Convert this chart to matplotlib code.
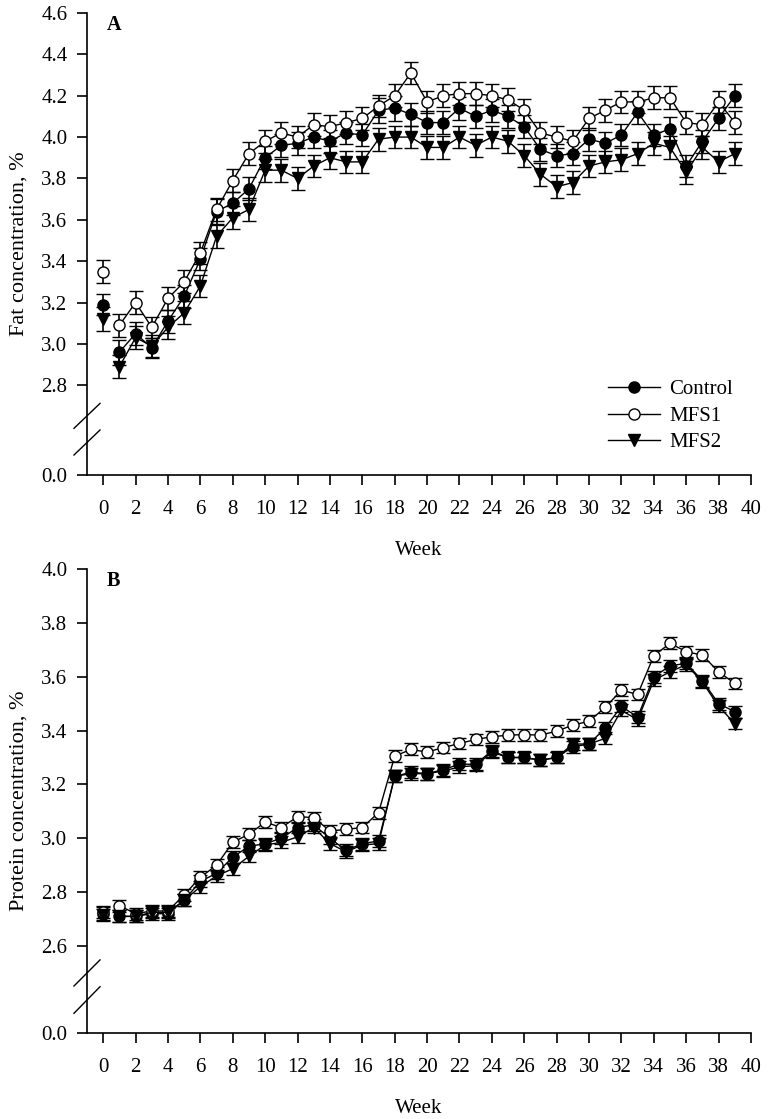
import numpy as np
import matplotlib
matplotlib.use("Agg")
import matplotlib.pyplot as plt
from matplotlib.lines import Line2D

plt.rcParams['font.family'] = ['Liberation Serif', 'DejaVu Serif']

weeks = list(range(40))

fat_control = [3.19, 2.96, 3.05, 2.98, 3.11, 3.23, 3.41, 3.64, 3.68, 3.75,
               3.90, 3.96, 3.97, 4.00, 3.98, 4.02, 4.01, 4.13, 4.14, 4.11,
               4.07, 4.07, 4.14, 4.10, 4.13, 4.10, 4.05, 3.94, 3.91, 3.92,
               3.99, 3.97, 4.01, 4.12, 4.01, 4.04, 3.86, 3.98, 4.09, 4.20]
fat_mfs1 = [3.35, 3.09, 3.20, 3.08, 3.22, 3.30, 3.44, 3.65, 3.79, 3.92,
            3.98, 4.02, 4.00, 4.06, 4.05, 4.07, 4.09, 4.15, 4.20, 4.31,
            4.17, 4.20, 4.21, 4.21, 4.20, 4.18, 4.13, 4.02, 4.00, 3.98,
            4.09, 4.13, 4.17, 4.17, 4.19, 4.19, 4.07, 4.06, 4.17, 4.07]
fat_mfs2 = [3.12, 2.89, 3.03, 2.99, 3.08, 3.15, 3.28, 3.52, 3.61, 3.65,
            3.84, 3.84, 3.80, 3.86, 3.90, 3.88, 3.88, 3.99, 4.00, 4.00,
            3.95, 3.95, 4.00, 3.96, 4.00, 3.98, 3.91, 3.82, 3.76, 3.78,
            3.86, 3.88, 3.89, 3.92, 3.97, 3.95, 3.83, 3.95, 3.88, 3.92]

fat_se_control = [0.05, 0.06, 0.055, 0.05, 0.055, 0.055, 0.055, 0.06, 0.055, 0.055,
                  0.055, 0.055, 0.055, 0.055, 0.055, 0.055, 0.055, 0.06, 0.06, 0.055,
                  0.055, 0.055, 0.055, 0.055, 0.055, 0.055, 0.055, 0.055, 0.055, 0.055,
                  0.055, 0.055, 0.055, 0.055, 0.055, 0.055, 0.055, 0.055, 0.055, 0.055]
fat_se_mfs1 = [0.055, 0.055, 0.055, 0.05, 0.055, 0.055, 0.055, 0.055, 0.055, 0.055,
               0.055, 0.055, 0.055, 0.055, 0.055, 0.055, 0.055, 0.055, 0.055, 0.055,
               0.055, 0.055, 0.055, 0.055, 0.055, 0.055, 0.055, 0.055, 0.055, 0.055,
               0.055, 0.055, 0.055, 0.055, 0.055, 0.055, 0.055, 0.055, 0.055, 0.055]
fat_se_mfs2 = [0.06, 0.055, 0.055, 0.055, 0.055, 0.055, 0.055, 0.055, 0.055, 0.055,
               0.055, 0.055, 0.055, 0.055, 0.055, 0.055, 0.055, 0.055, 0.055, 0.055,
               0.055, 0.055, 0.055, 0.055, 0.055, 0.055, 0.055, 0.055, 0.055, 0.055,
               0.055, 0.055, 0.055, 0.055, 0.055, 0.055, 0.055, 0.055, 0.055, 0.055]

prot_control = [2.72, 2.71, 2.71, 2.72, 2.72, 2.77, 2.84, 2.87, 2.93, 2.97,
                2.98, 3.00, 3.04, 3.05, 3.00, 2.955, 2.98, 2.99, 3.23, 3.245,
                3.24, 3.255, 3.275, 3.275, 3.325, 3.30, 3.30, 3.29, 3.30, 3.34,
                3.35, 3.41, 3.49, 3.45, 3.60, 3.64, 3.65, 3.585, 3.50, 3.47]
prot_mfs1 = [2.725, 2.75, 2.72, 2.73, 2.73, 2.79, 2.855, 2.90, 2.985, 3.015,
             3.06, 3.04, 3.08, 3.077, 3.027, 3.033, 3.04, 3.095, 3.305, 3.33,
             3.32, 3.337, 3.352, 3.367, 3.377, 3.383, 3.385, 3.383, 3.398, 3.42,
             3.435, 3.486, 3.55, 3.534, 3.678, 3.724, 3.693, 3.68, 3.618, 3.575]
prot_mfs2 = [2.715, 2.71, 2.71, 2.725, 2.725, 2.77, 2.82, 2.86, 2.887, 2.933,
             2.975, 2.985, 3.005, 3.04, 2.98, 2.95, 2.975, 2.98, 3.23, 3.24,
             3.24, 3.25, 3.265, 3.27, 3.32, 3.30, 3.30, 3.29, 3.30, 3.35,
             3.35, 3.371, 3.475, 3.44, 3.587, 3.618, 3.645, 3.58, 3.49, 3.426]

prot_se_control = [0.025, 0.022, 0.022, 0.022, 0.022, 0.022, 0.022, 0.022, 0.022, 0.022,
                   0.022, 0.022, 0.022, 0.022, 0.022, 0.022, 0.022, 0.022, 0.022, 0.022,
                   0.022, 0.022, 0.022, 0.022, 0.022, 0.022, 0.022, 0.022, 0.022, 0.022,
                   0.022, 0.022, 0.022, 0.022, 0.022, 0.022, 0.022, 0.022, 0.022, 0.022]
prot_se_mfs1 = [0.022, 0.022, 0.022, 0.022, 0.022, 0.022, 0.022, 0.022, 0.022, 0.022,
                0.022, 0.022, 0.022, 0.022, 0.022, 0.022, 0.022, 0.022, 0.022, 0.022,
                0.022, 0.022, 0.022, 0.022, 0.022, 0.022, 0.022, 0.022, 0.022, 0.022,
                0.022, 0.022, 0.022, 0.022, 0.022, 0.022, 0.022, 0.022, 0.022, 0.022]
prot_se_mfs2 = [0.022, 0.022, 0.022, 0.022, 0.022, 0.022, 0.022, 0.022, 0.022, 0.022,
                0.022, 0.022, 0.022, 0.022, 0.022, 0.022, 0.022, 0.022, 0.022, 0.022,
                0.022, 0.022, 0.022, 0.022, 0.022, 0.022, 0.022, 0.022, 0.022, 0.022,
                0.022, 0.022, 0.022, 0.022, 0.022, 0.022, 0.022, 0.022, 0.022, 0.022]

series_names = ["Control", "MFS1", "MFS2"]
xticks = list(range(0, 41, 2))
fat_yticks = [0.0, 2.8, 3.0, 3.2, 3.4, 3.6, 3.8, 4.0, 4.2, 4.4, 4.6]
prot_yticks = [0.0, 2.6, 2.8, 3.0, 3.2, 3.4, 3.6, 3.8, 4.0]

FS = 15
W, H = 768, 1119
fig = plt.figure(figsize=(W / 100, H / 100), dpi=100)

axA = fig.add_axes([87 / W, (H - 475) / H, 664 / W, 462 / H])
axB = fig.add_axes([87 / W, (H - 1032.7) / H, 664 / W, 463.7 / H])


def make_scale(b, y0):
    k = (b - y0) / b

    def fwd(v):
        v = np.asarray(v, dtype=float)
        return np.where(v >= b, v, b - (b - v) * k)

    def inv(t):
        t = np.asarray(t, dtype=float)
        return np.where(t >= b, t, b - (b - t) / k)
    return fwd, inv


styles = [dict(marker='o', mfc='black', ms=8),
          dict(marker='o', mfc='white', ms=8),
          dict(marker='v', mfc='black', ms=9)]


def draw_panel(ax, data, ses, yticks, ymax, b, y0, letter, brk):
    ax.set_yscale('function', functions=make_scale(b, y0))
    for vals, se, st in zip(data, ses, styles):
        common = dict(color='black', mec='black', mfc=st['mfc'], ms=st['ms'],
                      mew=1.0, elinewidth=1.2, capsize=4.7, capthick=1.2)
        ax.errorbar(weeks[1:], vals[1:], yerr=se[1:], fmt=st['marker'] + '-',
                    lw=1.0, **common)
        ax.errorbar(weeks[:1], vals[:1], yerr=se[:1], fmt=st['marker'],
                    **common)
    ax.set_xlim(-1, 40)
    ax.set_ylim(0, ymax)
    ax.set_xticks(xticks)
    ax.set_yticks(yticks)
    ax.set_yticklabels([f"{t:.1f}" for t in yticks])
    ax.minorticks_off()
    for s in ['top', 'right']:
        ax.spines[s].set_visible(False)
    for s in ['left', 'bottom']:
        ax.spines[s].set_linewidth(1.2)
    ax.tick_params(axis='both', direction='out', length=7, width=1.2,
                   labelsize=FS)
    ax.tick_params(axis='x', pad=11)
    ax.tick_params(axis='y', pad=7)
    ax.set_xlabel("Week", fontsize=FS, labelpad=16)
    ax.text(0.03, 0.975, letter, transform=ax.transAxes, fontsize=14.5,
            fontweight='bold', ha='left', va='center')
    for (ya, yb) in brk:
        ax.plot([-0.0196, 0.0196], [ya, yb], transform=ax.transAxes,
                color='black', lw=1.0, clip_on=False)


draw_panel(axA, [fat_control, fat_mfs1, fat_mfs2],
           [fat_se_control, fat_se_mfs1, fat_se_mfs2],
           fat_yticks, 4.6, 2.6, 2.366, "A",
           [(0.101, 0.155), (0.0433, 0.0974)])
draw_panel(axB, [prot_control, prot_mfs1, prot_mfs2],
           [prot_se_control, prot_se_mfs1, prot_se_mfs2],
           prot_yticks, 4.0, 2.4, 2.278, "B",
           [(0.1007, 0.157), (0.0418, 0.0992)])

axA.set_ylabel("Fat concentration, %", fontsize=16)
axB.set_ylabel("Protein concentration, %", fontsize=16)
axA.yaxis.set_label_coords((29 - 87) / 664, 0.5)
axB.yaxis.set_label_coords((29 - 87) / 664, 0.5)

handles = [Line2D([], [], color='black', lw=1.0, marker=st['marker'],
                  mfc=st['mfc'], mec='black', ms=st['ms']) for st in styles]
axA.legend(handles, series_names, loc='center left', frameon=False,
           bbox_to_anchor=(608 / W, (H - 416) / H),
           bbox_transform=fig.transFigure, fontsize=FS, borderpad=0,
           handlelength=2.5, handletextpad=0.45, labelspacing=0.33,
           borderaxespad=0)

fig.savefig("out.png", dpi=100)
